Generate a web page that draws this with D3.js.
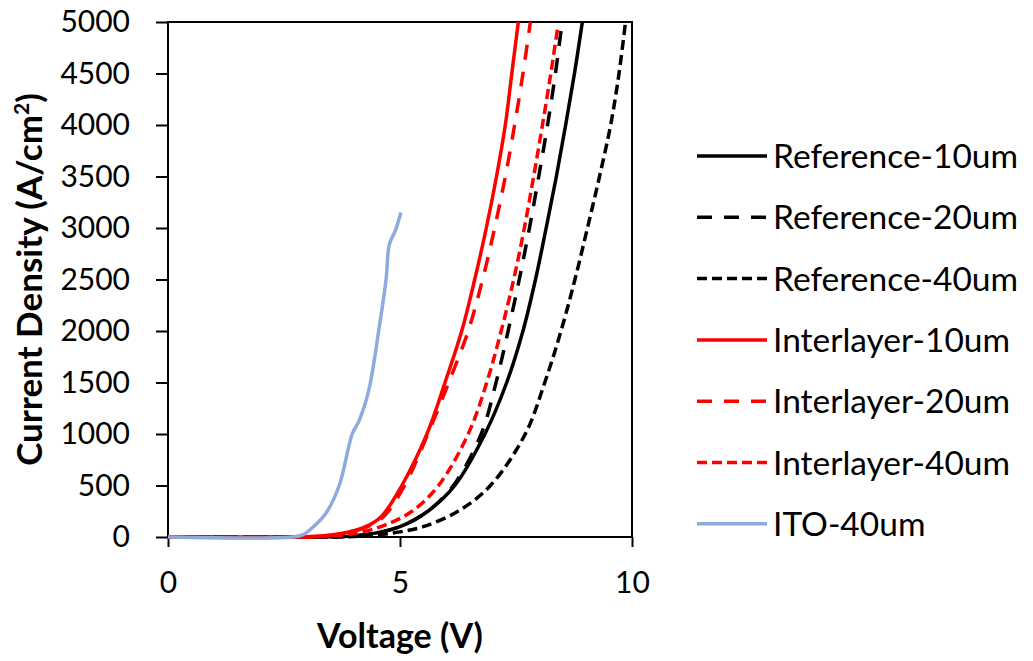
<!DOCTYPE html>
<html>
<head>
<meta charset="utf-8">
<script src="https://cdn.jsdelivr.net/npm/d3@7"></script>
<style>
  body { margin: 0; background: #fff; }
  text { font-family: Lato, "Open Sans", sans-serif; }
</style>
</head>
<body>
<div class="chart"></div>
<script>
// values: [voltage, current density]
const ref10 = [[0,0],[3,0],[4,10],[4.5,40],[5,100],[5.6,250],[6.18,500],[6.83,1000],[7.3,1500],[7.65,2000],[7.92,2500],[8.15,3000],[8.37,3500],[8.57,4000],[8.76,4500],[8.93,5000]];
const ref20 = [[0,0],[3,0],[4,10],[4.5,40],[5,100],[5.6,250],[6.15,500],[6.75,1000],[7.07,1500],[7.33,2000],[7.57,2500],[7.79,3000],[7.99,3500],[8.18,4000],[8.35,4500],[8.48,4950]];
const ref40 = [[0,0],[3.2,0],[4,5],[4.5,20],[5,50],[5.5,100],[6.25,250],[6.95,500],[7.7,1000],[8.12,1500],[8.47,2000],[8.77,2500],[9.04,3000],[9.3,3500],[9.54,4000],[9.72,4500],[9.86,5000]];
const int10 = [[0,0],[2.7,0],[3.5,20],[3.9,50],[4.26,100],[4.6,200],[5.04,500],[5.58,1000],[5.97,1500],[6.33,2000],[6.61,2500],[6.86,3000],[7.08,3500],[7.27,4000],[7.41,4500],[7.55,5000]];
const int20 = [[0,0],[2.8,0],[3.5,15],[3.9,45],[4.3,100],[4.65,200],[5.1,500],[5.6,1000],[6.05,1500],[6.47,2000],[6.78,2500],[7.04,3000],[7.27,3500],[7.47,4000],[7.65,4500],[7.81,5000]];
const int40 = [[0,0],[2.9,0],[3.7,15],[4.2,50],[4.7,120],[5.26,250],[5.83,500],[6.47,1000],[6.87,1500],[7.18,2000],[7.45,2500],[7.68,3000],[7.88,3500],[8.07,4000],[8.25,4500],[8.4,4950]];
const ito40 = [[0,0],[2.69,0],[2.9,20],[3.12,94],[3.4,228],[3.69,500],[3.97,1000],[4.12,1130],[4.33,1430],[4.54,2000],[4.7,2500],[4.77,2840],[4.9,2975],[5.02,3150]];

const seriesNames = ['Reference-10um','Reference-20um','Reference-40um','Interlayer-10um','Interlayer-20um','Interlayer-40um','ITO-40um'];
const seriesData = [ref10, ref20, ref40, int10, int20, int40, ito40];
const seriesColors = ['#000000','#000000','#000000','#ff0000','#ff0000','#ff0000','#8faadc'];
const seriesDash = ['none','15,12','10,5','none','15,12','10,5','none'];

const xTicks = [0, 5, 10];
const yTicks = [0,500,1000,1500,2000,2500,3000,3500,4000,4500,5000];

const W = 1033, H = 661;
const margin = {top:22, left:168, bottom:124, right:401};
const width = W - margin.left - margin.right;
const height = H - margin.top - margin.bottom;

let svg = d3.select('.chart').append('svg')
    .attr('width', W)
    .attr('height', H)
    .append('g')
    .attr('transform', 'translate(' + margin.left + ',' + margin.top + ')');

const x = d3.scaleLinear().domain([0, 10]).range([0, width]);
const y = d3.scaleLinear().domain([0, 5000]).range([height, 0]);

// plot frame
svg.append('rect')
    .attr('width', width)
    .attr('height', height)
    .attr('fill', 'none')
    .attr('stroke', 'black')
    .attr('stroke-width', 2);

let Y = svg.append('g')
    .call(d3.axisLeft(y).tickValues(yTicks).tickSize(12).tickPadding(26).tickFormat(d3.format('d')));
Y.select('.domain').remove();

let X = svg.append('g')
    .attr('transform', `translate(0, ${height})`)
    .call(d3.axisBottom(x).tickValues(xTicks).tickSize(10).tickPadding(25).tickFormat(d3.format('d')));
X.select('.domain').remove();

svg.selectAll('.tick line').attr('stroke', 'black').attr('stroke-width', 2);
svg.selectAll('.tick text').attr('font-size', 30).attr('fill', 'black');

const line = d3.line()
    .x(d => x(d[0]))
    .y(d => y(d[1]))
    .curve(d3.curveCatmullRom.alpha(0.5));

seriesData.forEach((s, i) => {
    svg.append('path')
        .datum(s)
        .attr('d', line)
        .attr('fill', 'none')
        .attr('stroke', seriesColors[i])
        .attr('stroke-width', 3.5)
        .attr('stroke-dasharray', seriesDash[i]);
});

// axis titles
svg.append('text')
    .attr('x', width / 2)
    .attr('y', height + 111)
    .attr('text-anchor', 'middle')
    .attr('font-size', 34)
    .attr('font-weight', 'bold')
    .text('Voltage (V)');

const yt = svg.append('text')
    .attr('transform', `translate(-126, ${height / 2}) rotate(-90)`)
    .attr('text-anchor', 'middle')
    .attr('font-size', 35)
    .attr('font-weight', 'bold');
yt.append('tspan').text('Current Density (A/cm');
yt.append('tspan').attr('font-size', 21).attr('dy', -13).text('2');
yt.append('tspan').attr('dy', 13).text(')');

// legend
const legend = d3.select('svg').append('g')
    .attr('transform', 'translate(697, 156)');

const row = legend.selectAll('g')
    .data(seriesNames)
    .enter()
    .append('g')
    .attr('transform', (d, i) => `translate(0, ${i * 61.3})`);

row.append('line')
    .attr('x1', 0).attr('x2', 70)
    .attr('stroke', (d, i) => seriesColors[i])
    .attr('stroke-width', 3.5)
    .attr('stroke-dasharray', (d, i) => seriesDash[i]);

row.append('text')
    .attr('x', 76)
    .attr('dy', '0.36em')
    .attr('font-size', 33.5)
    .attr('fill', 'black')
    .text(d => d);
</script>
</body>
</html>
